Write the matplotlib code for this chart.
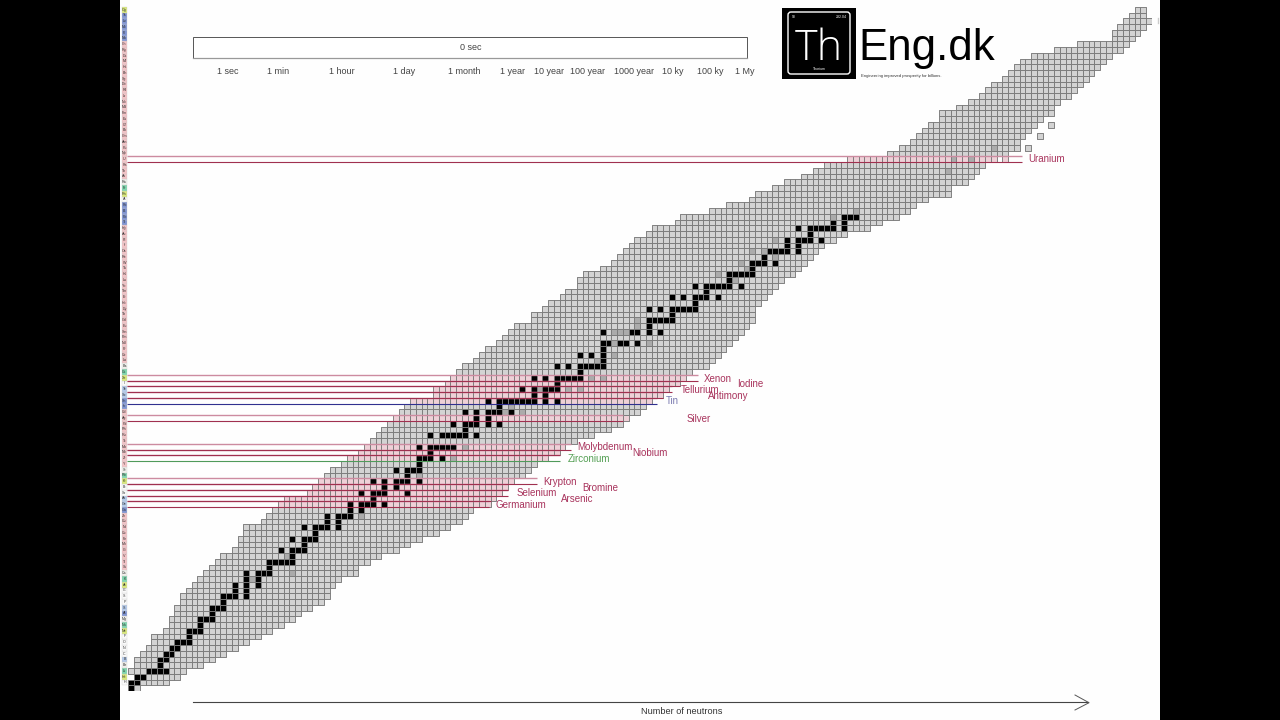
import numpy as np
import matplotlib
matplotlib.use("Agg")
import matplotlib.pyplot as plt
from matplotlib.collections import PolyCollection
from matplotlib.patches import Rectangle, FancyBboxPatch

plt.rcParams['font.family'] = ['Liberation Sans', 'DejaVu Sans']

# lowest / highest neutron number of each row, proton number 0..118
n_min = [0,0,1,0,1,1,2,3,4,4,6,7,7,8,8,9,9,10,11,12,13,14,15,16,18,19,19,20,20,23,24,25,26,27,31,32,33,34,35,37,38,40,41,42,43,44,45,46,47,48,49,53,53,55,56,57,58,60,61,62,64,65,66,67,70,70,72,73,75,76,78,78,79,82,84,85,86,87,88,90,91,95,96,101,104,108,109,112,114,117,119,121,125,132,134,136,137,138,139,141,141,144,146,148,149,150,152,153,154,155,157,161,165,171,171,172,173,174,175]
n_max = [1,6,8,9,12,14,16,18,20,22,24,26,28,29,31,33,34,34,35,36,39,39,41,43,46,48,50,53,55,57,58,59,62,63,64,65,66,68,69,70,72,74,75,77,80,83,85,86,88,89,90,92,93,95,96,97,100,101,102,103,104,105,106,107,108,108,108,109,110,111,112,113,115,116,117,118,119,120,122,124,128,130,133,135,136,138,142,142,145,146,147,148,152,152,154,154,155,156,157,158,160,160,161,163,164,165,166,167,168,169,170,172,173,174,175,176,177,176,176]
extra_cells = [(98,160),(96,158),(94,156)]
holes = [(92,151)]

# stable isotopes: proton number -> neutron numbers
stable = {0:[0],1:[0,1],2:[1,2],3:[3,4,5,6],4:[5],5:[5,6],6:[6,7],7:[7,8],8:[8,9,10],9:[10],10:[10,11,12],11:[12],12:[12,13,14],13:[14],14:[14,15,16],15:[16],16:[16,17,18,20],17:[18,20],18:[18,20,22],19:[20,22],20:[20,22,23,24],21:[24],22:[24,25,26,27,28],23:[28],24:[26,28,29,30],25:[30],26:[28,30,31,32],27:[32],28:[30,32,33,34,36],29:[34,36],30:[34,36,37,38],31:[38,40],32:[38,40,41,42,44],33:[42],34:[40,42,43,44,48],35:[44,46],36:[42,44,46,47,48,50],37:[48],38:[46,48,49,50],39:[50],40:[50,51,52,54],41:[52],42:[50,52,53,54,55,56],44:[52,54,55,56,57,58,60],45:[58],46:[56,58,59,60,62,64],47:[60,62],48:[58,60,62,63,64,66],49:[64],50:[62,64,65,66,67,68,69,70,72,74],51:[70,72],52:[68,70,72,73,74],53:[74],54:[70,72,74,75,76,77,78],55:[78],56:[74,76,78,79,80,81,82],57:[82],58:[78,80,82],59:[82],60:[82,83,85,86,88],62:[82,87,88,90,92],63:[90],64:[90,91,92,93,94],65:[94],66:[90,92,94,95,96,97,98],67:[98],68:[94,96,98,99,100,102],69:[100],70:[98,100,101,102,103,104,106],71:[104],72:[104,105,106,107,108],73:[108],74:[108,109,110,112],75:[110],76:[111,112,113,114,116],77:[114,116],78:[114,116,117,118,120],79:[118],80:[116,118,119,120,121,122,124],81:[122,124],82:[124,125,126]}
# very long-lived isotopes
long_lived = {19:[21],20:[28],23:[27],30:[40],37:[50],40:[56],42:[58],48:[65,68],49:[66],52:[71,76,78],54:[80,82],57:[81],58:[84],60:[84,90],62:[84,85,86],63:[88],64:[88],71:[105],72:[102],73:[107],74:[106],75:[112],76:[108,110],78:[112],82:[122],83:[126],90:[142],92:[143,146],94:[150]}

hl_z     = [54,53,52,51,50,47,42,41,40,36,35,34,33,32,92]
hl_names = ["Xenon","Iodine","Tellurium","Antimony","Tin","Silver","Molybdenum","Niobium","Zirconium","Krypton","Bromine","Selenium","Arsenic","Germanium","Uranium"]
hl_kind  = ["r","r","r","r","b","r","r","r","g","r","r","r","r","r","r"]
hl_end_n = [99,96,94.5,93,92,86,77,75,75,71,66,66,63,62.7,155.5]
label_xy = [(718,378.5),(750,384),(700,390),(728,396),(672,401),(699,418.5),(605,447.5),(650,453),(588.5,459),(559.5,482),(600,488),(537,493.5),(577,499),(520.5,505),(1046.5,159)]

symbols = "n H He Li Be B C N O F Ne Na Mg Al Si P S Cl Ar K Ca Sc Ti V Cr Mn Fe Co Ni Cu Zn Ga Ge As Se Br Kr Rb Sr Y Zr Nb Mo Tc Ru Rh Pd Ag Cd In Sn Sb Te I Xe Cs Ba La Ce Pr Nd Pm Sm Eu Gd Tb Dy Ho Er Tm Yb Lu Hf Ta W Re Os Ir Pt Au Hg Tl Pb Bi Po At Rn Fr Ra Ac Th Pa U Np Pu Am Cm Bk Cf Es Fm Md No Lr Rf Db Sg Bh Hs Mt Ds Rg Cn Nh Fl Mc Lv Ts Og".split()
noble = [2,10,18,36,54,86,118]
alkali = [3,11,19,37,55,87]
alkaline = [4,12,20,38,56,88]
metalloid = [5,14,32,33,51,52]
post_trans = [13,31,49,50,81,82,83,84,113,114,115,116,117]
nonmetal = [1,6,7,8,9,15,16,17,34,35,53,85]

time_labels = ["1 sec","1 min","1 hour","1 day","1 month","1 year","10 year","100 year","1000 year","10 ky","100 ky","1 My"]
time_x = [228,278,342,404.5,464,512,549.5,587,634.5,673,710.5,745]

W, H = 1280, 720
fig = plt.figure(figsize=(W/100, H/100), dpi=100, facecolor="black")

bg = fig.add_axes([0,0,1,1]); bg.set_xlim(0,W); bg.set_ylim(H,0); bg.axis("off"); bg.set_zorder(0)
bg.add_patch(Rectangle((120,0),1040,720,fc="#fefefe",ec="none"))

# chart axes: one unit = one cell
cell = 5.75; x0 = 128.3; y0 = 691.0
nN, nZ = 178, 119
ax = fig.add_axes([x0/W,(H-y0)/H,nN*cell/W,nZ*cell/H]); ax.set_xlim(0,nN); ax.set_ylim(0,nZ); ax.axis("off")
ax.patch.set_alpha(0); ax.set_zorder(2)

grid = np.full((nZ,nN),-1)
for z,(a,b) in enumerate(zip(n_min,n_max)):
    grid[z,a:b+1] = 3 if z in hl_z else 0
for z,n in extra_cells: grid[z,n]=0
for z,n in holes: grid[z,n]=-1
for z,ns in long_lived.items():
    for n in ns: grid[z,n]=1
for z,ns in stable.items():
    for n in ns: grid[z,n]=2
cmap = ["#d3d3d3","#ababab","#000000","#eed0d7"]
zz,nn = np.nonzero(grid>=0)
verts = [[(n,z),(n+1,z),(n+1,z+1),(n,z+1)] for z,n in zip(zz,nn)]
ax.add_collection(PolyCollection(verts,facecolors=[cmap[grid[z,n]] for z,n in zip(zz,nn)],edgecolors="#7a7a7a",linewidths=0.65,zorder=1))

line_col = {"r":"#a0304f","b":"#30308f","g":"#4f9a5a"}
text_col = {"r":"#a8335c","b":"#7a7ab0","g":"#55a055"}
nstart = (127-x0)/cell
for z,k,e in zip(hl_z,hl_kind,hl_end_n):
    ax.hlines(z+1,nstart,e,color="#cc8ba0",lw=1.0,clip_on=False,zorder=3)
for z,k,e in zip(hl_z,hl_kind,hl_end_n):
    ax.hlines(z,nstart,e,color=line_col[k],lw=0.8,clip_on=False,zorder=4)

top = fig.add_axes([0,0,1,1]); top.set_xlim(0,W); top.set_ylim(H,0); top.axis("off"); top.patch.set_alpha(0); top.set_zorder(5)

for name,k,(lx,ly) in zip(hl_names,hl_kind,label_xy):
    top.text(lx,ly,name,color=text_col[k],fontsize=7.0,ha="center",va="center")

# element strip at left
for z in range(1,119):
    c = "#f3c3c6"
    if z in noble: c="#d9e87c"
    elif z in alkali: c="#7ed6ae"
    elif z in alkaline: c="#f0f0ec"
    elif z in metalloid: c="#b3c9ea"
    elif z in post_trans: c="#7f94d2"
    elif z in nonmetal: c="#fafafa"
    yc = y0-(z+0.5)*cell
    top.add_patch(Rectangle((122,yc-cell/2),5,cell,fc=c,ec="#c8c8c8",lw=0.2))
    top.text(124.5,yc,symbols[z],fontsize=2.6,color="#333333",ha="center",va="center")

# timeline
top.add_patch(Rectangle((193,37),554,21,fc="white",ec="#555555",lw=0.7))
top.plot([193,747],[58,58],color="#999999",lw=0.9)
top.text(471,47,"0 sec",fontsize=6.5,color="#444444",ha="center",va="center")
for s,x in zip(time_labels,time_x):
    top.text(x,72,s,fontsize=6.5,color="#444444",ha="center",va="center")

# logo
top.add_patch(Rectangle((782,8),74,71,fc="black",ec="none"))
top.add_patch(FancyBboxPatch((788,12),62,62,boxstyle="round,pad=0,rounding_size=3",fc="black",ec="white",lw=1))
top.text(819,60,"Th",fontsize=31,color="white",ha="center",va="baseline",family=["Open Sans","DejaVu Sans"],fontweight="light")
top.text(792,16.5,"90",fontsize=2.5,color="white",ha="left",va="center")
top.text(847,16.5,"232.04",fontsize=2.5,color="white",ha="right",va="center")
top.text(819,69,"Thorium",fontsize=2.5,color="white",ha="center",va="center")
top.text(858,60,"Eng.dk",fontsize=31.5,color="#000000",ha="left",va="baseline")
top.text(861,76,"Engineering improved prosperity for billions.",fontsize=3.1,color="#333333",ha="left",va="center")

# small clipped mark at upper right
top.plot([1158,1158],[18,23],color="#cccccc",lw=1)

# neutron axis
top.plot([193,1088],[702.3,702.3],color="#444444",lw=0.8)
top.plot([1075,1089,1075],[695,702.7,710],color="#555555",lw=0.7)
top.text(682,711.5,"Number of neutrons",fontsize=6.6,color="#333333",ha="center",va="center")

fig.savefig("out.png",dpi=100,facecolor="black")
